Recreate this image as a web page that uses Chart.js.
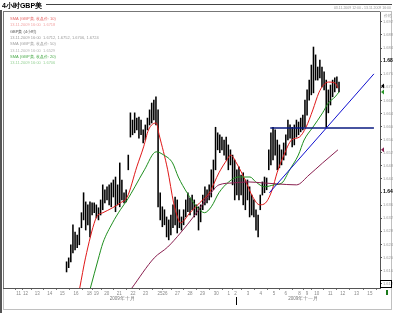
<!DOCTYPE html>
<html>
<head>
<meta charset="utf-8">
<script src="https://cdn.jsdelivr.net/npm/chart.js@4"></script>
<style>
  html, body { margin: 0; padding: 0; background: #fff; }
  #wrap { width: 394px; height: 313px; }
</style>
</head>
<body>
<div id="wrap"><canvas id="myChart" width="394" height="313"></canvas></div>
<script>
// 4-hour bars, first bar sits at slot 27 of the visible range
const firstBar = 27;
const highs = [
  1.6187, 1.6199, 1.6239, 1.6300, 1.6278, 1.6269, 1.6291, 1.6337, 1.6398, 1.6370,
  1.6361, 1.6370, 1.6367, 1.6367, 1.6361, 1.6352, 1.6376, 1.6422, 1.6407, 1.6416,
  1.6422, 1.6428, 1.6437, 1.6446, 1.6422, 1.6489, 1.6437, 1.6398, 1.6407, 1.6513,
  1.6642, 1.6620, 1.6642, 1.6626, 1.6629, 1.6620, 1.6590, 1.6605, 1.6626, 1.6651,
  1.6672, 1.6681, 1.6691, 1.6651, 1.6398, 1.6355, 1.6346, 1.6324, 1.6315, 1.6330,
  1.6361, 1.6385, 1.6376, 1.6346, 1.6324, 1.6346, 1.6376, 1.6398, 1.6382, 1.6391,
  1.6376, 1.6361, 1.6355, 1.6361, 1.6391, 1.6416, 1.6407, 1.6422, 1.6468, 1.6498,
  1.6598, 1.6581, 1.6575, 1.6568, 1.6559, 1.6568, 1.6544, 1.6529, 1.6513, 1.6498,
  1.6468, 1.6477, 1.6452, 1.6459, 1.6437, 1.6437, 1.6416, 1.6391, 1.6376, 1.6346,
  1.6330, 1.6391, 1.6431, 1.6446, 1.6443, 1.6529, 1.6581, 1.6598, 1.6590, 1.6559,
  1.6544, 1.6529, 1.6550, 1.6575, 1.6620, 1.6605, 1.6598, 1.6605, 1.6620, 1.6614,
  1.6626, 1.6635, 1.6681, 1.6712, 1.6742, 1.6788, 1.6843, 1.6819, 1.6782, 1.6803,
  1.6782, 1.6767, 1.6742, 1.6712, 1.6727, 1.6742, 1.6749, 1.6752, 1.6736
];
const lows = [
  1.6156, 1.6169, 1.6187, 1.6214, 1.6223, 1.6230, 1.6239, 1.6291, 1.6315, 1.6284,
  1.6300, 1.6263, 1.6330, 1.6337, 1.6321, 1.6315, 1.6330, 1.6346, 1.6367, 1.6376,
  1.6361, 1.6355, 1.6385, 1.6340, 1.6361, 1.6355, 1.6376, 1.6367, 1.6370, 1.6468,
  1.6568, 1.6575, 1.6581, 1.6590, 1.6565, 1.6575, 1.6550, 1.6559, 1.6590, 1.6605,
  1.6611, 1.6620, 1.6605, 1.6355, 1.6315, 1.6294, 1.6300, 1.6263, 1.6254, 1.6269,
  1.6291, 1.6300, 1.6275, 1.6291, 1.6284, 1.6300, 1.6324, 1.6340, 1.6330, 1.6346,
  1.6324, 1.6330, 1.6284, 1.6309, 1.6346, 1.6361, 1.6367, 1.6376, 1.6385, 1.6407,
  1.6468, 1.6529, 1.6520, 1.6529, 1.6513, 1.6498, 1.6468, 1.6483, 1.6422, 1.6376,
  1.6391, 1.6376, 1.6391, 1.6361, 1.6346, 1.6376, 1.6324, 1.6330, 1.6324, 1.6284,
  1.6263, 1.6346, 1.6391, 1.6398, 1.6407, 1.6468, 1.6483, 1.6498, 1.6513, 1.6468,
  1.6474, 1.6483, 1.6498, 1.6513, 1.6559, 1.6565, 1.6538, 1.6544, 1.6568, 1.6575,
  1.6584, 1.6590, 1.6598, 1.6635, 1.6681, 1.6697, 1.6703, 1.6742, 1.6742, 1.6749,
  1.6721, 1.6712, 1.6598, 1.6642, 1.6666, 1.6691, 1.6706, 1.6718, 1.6706
];
const lastClose = 1.6724;

// moving averages: [bar slot, price]
const smaFast = [
  [33.2, 1.6107], [35.9, 1.6199], [40.5, 1.6315], [41.8, 1.6330], [44.1, 1.6337],
  [48.6, 1.6352], [52.3, 1.6367], [55.5, 1.6385], [60.0, 1.6477], [63.2, 1.6538],
  [65.5, 1.6590], [69.1, 1.6611], [70.5, 1.6575], [74.5, 1.6468], [77.3, 1.6367],
  [79.1, 1.6324], [80.5, 1.6306], [85.0, 1.6337], [89.5, 1.6367], [94.1, 1.6398],
  [98.6, 1.6459], [102.3, 1.6498], [104.1, 1.6513], [106.8, 1.6489], [110.9, 1.6437],
  [114.5, 1.6385], [117.7, 1.6361], [120.5, 1.6367], [123.6, 1.6407], [125.9, 1.6459],
  [129.1, 1.6513], [132.7, 1.6559], [136.4, 1.6568], [139.5, 1.6598], [142.7, 1.6651],
  [145.5, 1.6703], [147.7, 1.6727], [150.0, 1.6736], [153.2, 1.6733], [154.5, 1.6718]
];
const smaMid = [
  [38.2, 1.6107], [41.8, 1.6193], [44.1, 1.6245], [48.6, 1.6306], [52.3, 1.6346],
  [55.5, 1.6376], [59.1, 1.6416], [63.6, 1.6468], [69.1, 1.6523], [72.7, 1.6513],
  [76.8, 1.6489], [79.5, 1.6446], [83.6, 1.6398], [88.2, 1.6355], [91.8, 1.6337],
  [95.0, 1.6355], [98.6, 1.6398], [103.2, 1.6431], [107.7, 1.6446], [113.2, 1.6446],
  [115.9, 1.6431], [120.0, 1.6416], [124.5, 1.6422], [128.2, 1.6428], [131.8, 1.6468],
  [135.9, 1.6513], [138.6, 1.6559], [142.7, 1.6598], [147.3, 1.6642], [150.0, 1.6672],
  [153.2, 1.6691], [155.0, 1.6706]
];
const smaSlow = [
  [57.7, 1.6107], [68.2, 1.6199], [74.5, 1.6232], [80.5, 1.6275], [87.3, 1.6330],
  [94.1, 1.6391], [98.6, 1.6422], [105.5, 1.6428], [112.3, 1.6431], [119.1, 1.6428],
  [125.9, 1.6425], [135.0, 1.6422], [140.9, 1.6452], [147.3, 1.6489], [154.5, 1.6529]
];
const trendUp = [[122.3, 1.6398], [171.4, 1.6761]];
const trendFlat = [[122.7, 1.6596], [171.4, 1.6596]];

// axis ticks
const priceTicks = [1.612, 1.616, 1.62, 1.624, 1.628, 1.632, 1.636, 1.64, 1.644, 1.648, 1.652,
  1.656, 1.66, 1.664, 1.668, 1.672, 1.676, 1.68, 1.684, 1.688, 1.692];
const dayTicks = [4.5, 7.7, 13.2, 19.1, 25.0, 31.4, 37.7, 40.9, 45.9, 51.8, 58.2, 64.1, 70.9, 73.2,
  79.1, 85.0, 90.9, 97.3, 103.2, 106.4, 112.3, 118.2, 124.5, 130.0, 136.4, 140.0, 144.5, 150.9,
  156.8, 163.2, 169.5];
const dayLabels = ['11', '12', '13', '14', '15', '16', '18', '19', '20', '21', '22', '23', '25', '26',
  '27', '28', '29', '30', '1', '2', '3', '4', '5', '6', '8', '9', '10', '11', '12', '13', '15'];
const monthLabels = ['2009年十月', '2009年十一月'];
const monthPos = [53.2, 138.2];
const monthSplit = 106.4;

const legendRows = [
  ['SMA (GBP美, 收盘价: 10)', '#e86a6a'],
  ['13.11.2009 16:00  1.6718', '#f2a6a6'],
  ['GBP美 (4小时)', '#555555'],
  ['13.11.2009 16:00  1.6712, 1.6752, 1.6706, 1.6724', '#999999'],
  ['SMA (GBP美, 收盘价: 50)', '#a0a0a0'],
  ['13.11.2009 16:00  1.6529', '#b4b4b4'],
  ['SMA (GBP美, 收盘价: 20)', '#4aaa4a'],
  ['13.11.2009 16:00  1.6706', '#98d298']
];

const font = '"Liberation Sans", Arial, sans-serif';
const ctx = document.getElementById('myChart');

// round price levels (1.64, 1.68) are shown bold
const isMajor = v => Math.round(v * 1000) % 40 === 0;

const frame = {
  id: 'frame',
  beforeDraw(chart) {
    const c = chart.ctx;
    c.save();
    c.fillStyle = '#fff';
    c.fillRect(0, 0, 394, 313);
    c.fillStyle = '#555';
    c.fillRect(0, 10, 2, 303);
    c.strokeStyle = '#c0c0c0';
    c.lineWidth = 1;
    c.strokeRect(3.5, 11.5, 388, 298);
    c.strokeStyle = '#777';
    c.beginPath();
    c.moveTo(3.5, 12); c.lineTo(3.5, 288);
    c.moveTo(3, 11.5); c.lineTo(380, 11.5);
    c.stroke();
    c.restore();
  },
  afterDraw(chart) {
    const c = chart.ctx;
    const xs = chart.scales.x, ys = chart.scales.y;
    c.save();
    // title bar
    c.fillStyle = '#000';
    c.font = 'bold 7px ' + font;
    c.textBaseline = 'alphabetic';
    c.fillText('4小时GBP美', 2, 8);
    c.strokeStyle = '#444';
    c.beginPath(); c.moveTo(46, 4.5); c.lineTo(392, 4.5); c.stroke();
    c.fillStyle = '#999';
    c.font = '3.5px ' + font;
    c.textAlign = 'right';
    c.fillText('03.11.2009 12:00 - 13.11.2009 16:00', 391, 9);
    c.fillText('价格', 392, 17);
    // legend block
    c.textAlign = 'left';
    c.font = '4px ' + font;
    legendRows.forEach((r, i) => {
      c.fillStyle = r[1];
      c.fillText(r[0], 10, 20 + i * 6.3);
    });
    // month labels and separator
    c.fillStyle = '#777';
    c.textAlign = 'center';
    c.font = '4.5px ' + font;
    monthLabels.forEach((m, i) => c.fillText(m, xs.getPixelForValue(monthPos[i]), 300));
    c.fillStyle = '#000';
    c.fillRect(Math.round(xs.getPixelForValue(monthSplit)), 297, 1, 8);
    // markers on price axis
    const mark = (v, col) => {
      const y = ys.getPixelForValue(v);
      c.fillStyle = col;
      c.beginPath();
      c.moveTo(381, y); c.lineTo(384, y - 2.5); c.lineTo(384, y + 2.5); c.closePath();
      c.fill();
    };
    mark(lastClose, '#000');
    mark(smaMid[smaMid.length - 1][1], '#2a9a2a');
    mark(smaSlow[smaSlow.length - 1][1], '#8a2050');
    // boxed bottom price label
    const yb = ys.getPixelForValue(priceTicks[0]);
    c.strokeStyle = '#000';
    c.strokeRect(380.5, Math.round(yb) - 3.5, 11, 7);
    c.fillStyle = '#1a7a1a';
    c.fillRect(386, 290, 2, 5);
    c.restore();
  }
};

const barData = highs.map((h, i) => ({ x: firstBar + i, y: [lows[i], h] }));
const pts = arr => arr.map(p => ({ x: p[0], y: p[1] }));

new Chart(ctx, {
  type: 'bar',
  data: {
    datasets: [
      { type: 'line', data: pts(smaSlow), borderColor: '#8a2050', borderWidth: 1, pointRadius: 0, cubicInterpolationMode: 'monotone', order: 1 },
      { type: 'line', data: pts(smaMid), borderColor: '#1f8f1f', borderWidth: 1, pointRadius: 0, cubicInterpolationMode: 'monotone', order: 1 },
      { type: 'line', data: pts(smaFast), borderColor: '#e01818', borderWidth: 1, pointRadius: 0, cubicInterpolationMode: 'monotone', order: 1 },
      { type: 'line', data: pts(trendUp), borderColor: '#1010d0', borderWidth: 1, pointRadius: 0, order: 0 },
      { type: 'line', data: pts(trendFlat), borderColor: '#0a1a80', borderWidth: 1.5, pointRadius: 0, order: 0 },
      { type: 'bar', data: barData, backgroundColor: '#000', barThickness: 0.9, order: 2 }
    ]
  },
  options: {
    responsive: false,
    animation: false,
    devicePixelRatio: 1,
    layout: { padding: { top: 12, left: 3, right: 0, bottom: 0 } },
    plugins: { legend: { display: false }, tooltip: { enabled: false } },
    scales: {
      x: {
        type: 'linear',
        min: 0,
        max: 171.4,
        afterBuildTicks: s => { s.ticks = dayTicks.map(v => ({ value: v })); },
        afterFit: s => { s.height = 25; },
        grid: { drawOnChartArea: false, tickLength: 2, color: '#777' },
        border: { color: '#555' },
        ticks: {
          autoSkip: false,
          maxRotation: 0,
          padding: 1,
          color: '#888',
          font: { size: 4.5, family: font },
          callback: (v, i) => dayLabels[i]
        }
      },
      y: {
        position: 'right',
        min: 1.6107,
        max: 1.6950,
        afterBuildTicks: s => { s.ticks = priceTicks.map(v => ({ value: v })); },
        afterFit: s => { s.width = 14; },
        grid: { drawOnChartArea: false, tickLength: 2, color: '#555' },
        border: { color: '#555' },
        ticks: {
          padding: 1,
          color: c => (c.tick && isMajor(c.tick.value) ? '#000' : '#999'),
          font: c => (c.tick && isMajor(c.tick.value)
            ? { size: 5, weight: 'bold', family: font }
            : { size: 4, family: font }),
          callback: v => (isMajor(v) ? v.toFixed(2) : v.toFixed(3))
        }
      }
    }
  },
  plugins: [frame]
});
</script>
</body>
</html>
